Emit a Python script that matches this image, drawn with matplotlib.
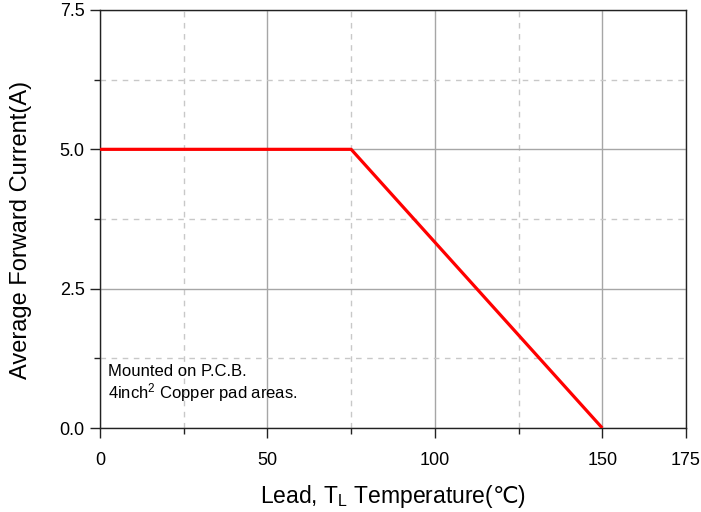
import matplotlib

matplotlib.use("Agg")
import matplotlib.pyplot as plt

# derating curve: lead temperature (C) vs average forward current (A)
temp_c = [0, 75, 150]
current_a = [5.0, 5.0, 0.0]

x_major = [0, 50, 100, 150, 175]
x_minor = [25, 75, 125]
y_major = [0.0, 2.5, 5.0, 7.5]
y_minor = [1.25, 3.75, 6.25]

plt.rcParams["font.family"] = ["Liberation Sans", "DejaVu Sans"]
plt.rcParams["mathtext.fontset"] = "custom"
plt.rcParams["mathtext.rm"] = "Liberation Sans"
plt.rcParams["mathtext.it"] = "Liberation Sans"
plt.rcParams["mathtext.sf"] = "Noto Sans CJK SC"

fig = plt.figure(figsize=(7.01, 5.12), dpi=100)
ax = fig.add_axes([0.1427, 0.164, 0.8359, 0.8165])

ax.set_xlim(0, 175)
ax.set_ylim(0, 7.5)
ax.set_xticks(x_major)
ax.set_xticks(x_minor, minor=True)
ax.set_yticks(y_major)
ax.set_yticks(y_minor, minor=True)
ax.set_yticklabels([f"{v:.1f}" for v in y_major])

ax.grid(which="major", color="#a6a6a6", lw=1.0, ls="-")
ax.grid(which="minor", color="#c8c8c8", lw=1.0, ls=(0, (4, 4)))
ax.set_axisbelow(True)

ax.plot(temp_c, current_a, color="#ff0000", lw=2.3, zorder=3, solid_capstyle="butt")

for s in ax.spines.values():
    s.set_color("#222222")
    s.set_linewidth(1.0)

ax.tick_params(which="major", direction="out", length=7, width=1.0, color="#222222",
               labelsize=13, top=False, right=False)
ax.tick_params(axis="x", which="major", pad=10)
ax.tick_params(axis="y", which="major", pad=4)
ax.tick_params(which="minor", direction="out", length=4, width=1.0, color="#222222",
               top=False, right=False)

ax.set_xlabel("Lead, T$_\\mathregular{L}$ Temperature($\\mathsf{℃}$)", fontsize=16.5, labelpad=10)
ax.set_ylabel("Average Forward Current(A)", fontsize=17)
ax.yaxis.set_label_coords(-0.116, 0.474)

ax.text(2.5, 0.93, "Mounted on P.C.B.", fontsize=12, va="baseline", ha="left")
ax.text(2.5, 0.54, "4inch$^\\mathregular{2}$ Copper pad areas.", fontsize=12, va="baseline", ha="left")

fig.savefig("out.png", dpi=100)
